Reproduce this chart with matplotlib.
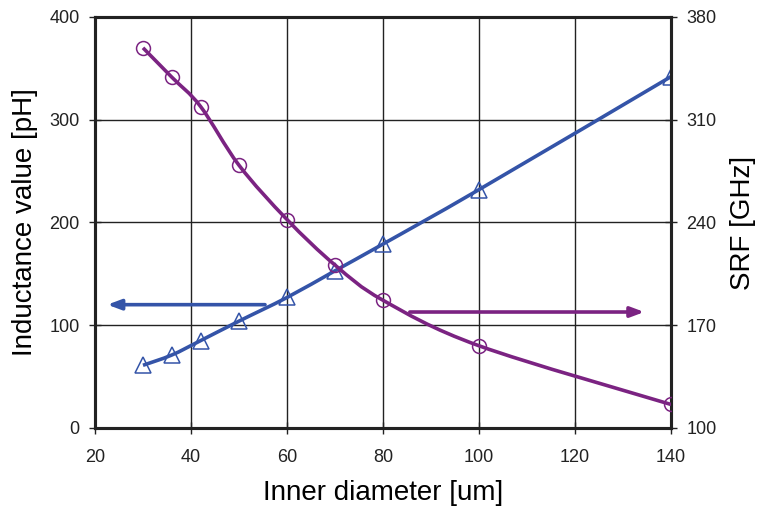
import numpy as np
import matplotlib.pyplot as plt
from matplotlib.path import Path
from matplotlib.patches import PathPatch

plt.rcParams['font.family'] = ['Liberation Sans', 'DejaVu Sans']

# datos
diametro = [30, 36, 42, 50, 60, 70, 80, 100, 140]
inductancia = [61, 71, 85, 104, 127, 153, 179, 232, 342]
srf = [359, 339, 319, 279, 242, 211, 187, 156, 116]

azul = '#3454A8'
morado = '#7B2382'


# curva suavizada tipo Excel (Bezier a partir de los puntos)
def curva(ax, x, y, color):
    x = np.asarray(x, float)
    y = np.asarray(y, float)
    verts = [(x[0], y[0])]
    codes = [Path.MOVETO]
    n = len(x)
    for i in range(n - 1):
        x0, y0 = (x[i - 1], y[i - 1]) if i > 0 else (x[i], y[i])
        x3, y3 = (x[i + 2], y[i + 2]) if i + 2 < n else (x[i + 1], y[i + 1])
        c1 = (x[i] + (x[i + 1] - x0) / 6, y[i] + (y[i + 1] - y0) / 6)
        c2 = (x[i + 1] - (x3 - x[i]) / 6, y[i + 1] - (y3 - y[i]) / 6)
        verts += [c1, c2, (x[i + 1], y[i + 1])]
        codes += [Path.CURVE4] * 3
    ax.add_patch(PathPatch(Path(verts, codes), fill=False, edgecolor=color,
                           lw=2.6, zorder=3))


fig = plt.figure(figsize=(7.58, 5.15), dpi=100)
ax = fig.add_axes([0.1253, 0.169, 0.760, 0.798])
ax2 = ax.twinx()

curva(ax, diametro, inductancia, azul)
ax.plot(diametro, inductancia, ls='none', marker='^', ms=11, mfc='none',
        mec=azul, mew=1.1, zorder=4)
curva(ax2, diametro, srf, morado)
ax2.plot(diametro, srf, ls='none', marker='o', ms=10, mfc='none',
         mec=morado, mew=1.1, zorder=4)

# flechas
ax.annotate('', xy=(22, 120), xytext=(56, 120),
            arrowprops=dict(arrowstyle='-|>,head_length=0.8,head_width=0.3',
                            color=azul, lw=2.6))
ax2.annotate('', xy=(135, 179), xytext=(85, 179),
             arrowprops=dict(arrowstyle='-|>,head_length=0.8,head_width=0.3',
                             color=morado, lw=2.6))

ax.set_xlim(20, 140)
ax.set_ylim(0, 400)
ax2.set_ylim(100, 380)
ax.set_xticks(range(20, 141, 20))
ax.set_yticks(range(0, 401, 100))
ax2.set_yticks(range(100, 381, 70))
ax.grid(color='#222222', lw=1)
ax2.grid(False)
ax.set_axisbelow(True)

for a in (ax, ax2):
    a.tick_params(direction='inout', length=8, width=1, labelsize=13,
                  colors='#222222', pad=7)
    for s in a.spines.values():
        s.set_linewidth(2.2)
        s.set_color('#222222')
ax.tick_params(axis='x', pad=11)

ax.set_xlabel('Inner diameter [um]', fontsize=20, labelpad=10)
ax.set_ylabel('Inductance value [pH]', fontsize=20, labelpad=8)
ax2.set_ylabel('SRF [GHz]', fontsize=20, labelpad=10)

fig.savefig('out.png', dpi=100)
